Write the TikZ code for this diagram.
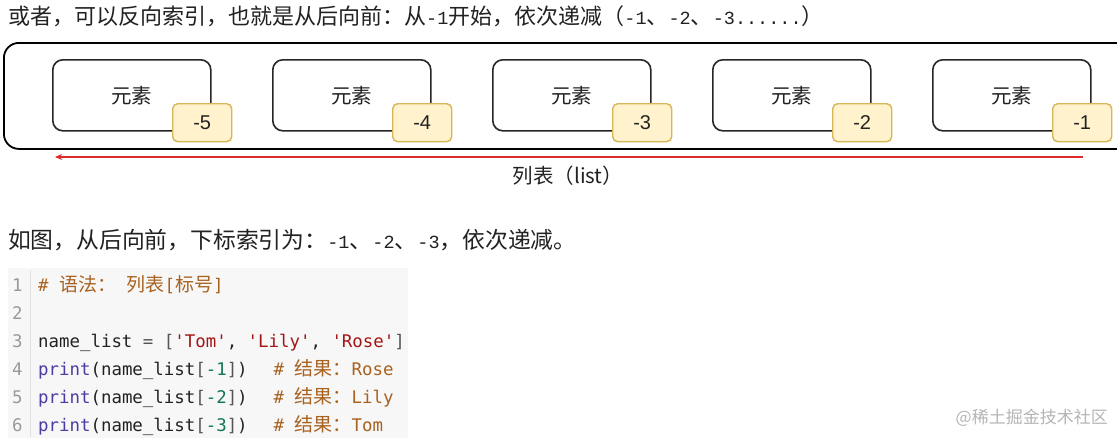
\documentclass[tikz,border=0pt]{standalone}
\usepackage{fontspec}
\newfontfamily\cjk{Noto Sans CJK SC}
\newfontfamily\arial{Liberation Sans}
\newfontfamily\mono{DejaVu Sans Mono}
\newfontfamily\halfw{Liberation Mono}
\usetikzlibrary{arrows.meta}
\definecolor{labfill}{HTML}{FFF2CC}
\definecolor{labdraw}{HTML}{D6B656}
\definecolor{arrred}{HTML}{DD2A2A}
\definecolor{codebg}{HTML}{F7F7F7}
\definecolor{gutter}{HTML}{E2E2E2}
\definecolor{lnum}{HTML}{999999}
\definecolor{cmt}{HTML}{A8611F}
\definecolor{kw}{HTML}{4E3AA6}
\definecolor{str}{HTML}{A31515}
\definecolor{num}{HTML}{117755}
\definecolor{brk}{HTML}{555555}
\definecolor{txt}{HTML}{222222}
\definecolor{wm}{HTML}{B5B5B5}
\newcommand\cj[1]{{\cjk\fontsize{19}{20}\selectfont #1}}
\newcommand\hw[1]{{\halfw\fontsize{18.5}{20}\selectfont #1}}
\newcommand\gap{~~\hspace{5pt}}
\begin{document}
\begin{tikzpicture}[x=1pt,y=-1pt,
  para/.style={inner sep=0pt, anchor=base west, text=txt},
  outerbox/.style={draw=black, line width=1.8pt, rounded corners=15pt, minimum width=1140pt, minimum height=106pt, inner sep=0pt, anchor=north west},
  elem/.style={draw=black!85, line width=1.6pt, rounded corners=10pt, minimum width=158pt, minimum height=71pt, inner sep=0pt, anchor=north west, font=\cjk\fontsize{20.5}{22}\selectfont, text=txt},
  idx/.style={draw=labdraw, fill=labfill, line width=1.4pt, rounded corners=5pt, minimum width=59pt, minimum height=38pt, inner sep=0pt, anchor=north west, font=\arial\fontsize{20}{22}\selectfont, text=txt},
  redarrow/.style={draw=arrred, line width=1.6pt, -{Stealth[length=7pt,width=6pt]}},
  codeline/.style={inner sep=0pt, anchor=base west, font=\mono\fontsize{17.4}{20}\selectfont, text=txt},
  lineno/.style={inner sep=0pt, anchor=base west, font=\mono\fontsize{17.4}{20}\selectfont, text=lnum},
]
\useasboundingbox (0,0) rectangle (1117,437);
\fill[white] (0,0) rectangle (1117,437);
\clip (0,0) rectangle (1117,437);

\node[para, font=\cjk\fontsize{22}{24}\selectfont] (t1) at (8,24) {或者，可以反向索引，也就是从后向前：从\hw{-1}开始，依次递减（\hw{-1}、\hw{-2}、\hw{-3......}）};

\node[outerbox] (list) at (3,42) {};
\foreach \i/\v in {0/-5,1/-4,2/-3,3/-2,4/-1}{
  \node[elem] (e\i) at (52+220*\i,59) {元素};
  \node[idx] (n\i) at (172+220*\i,103) {\v};
}
\coordinate (rs) at (1083,157);
\coordinate (re) at (55,157);
\draw[redarrow] (rs) -- (re);
\node[inner sep=0pt, font=\cjk\fontsize{20.5}{22}\selectfont, text=txt] (cap) at (568,176) {列表（list）};

\node[para, font=\cjk\fontsize{22.8}{24}\selectfont] (t2) at (8,248) {如图，从后向前，下标索引为：\hw{-1}、\hw{-2}、\hw{-3}，依次递减。};

\node[fill=codebg, minimum width=400pt, minimum height=170pt, inner sep=0pt, anchor=north west] (code) at (8,268) {};
\coordinate (g1) at (30,270);
\coordinate (g2) at (30,437);
\draw[gutter, line width=1pt] (g1) -- (g2);

\foreach \k in {1,...,6}{
  \node[lineno] (ln\k) at (12,263+28*\k) {\k};
}
\node[codeline] (c1) at (38,291) {\textcolor{cmt}{\# \cj{语法：} \cj{列表}[\cj{标号}]}};
\node[codeline] (c3) at (38,347) {name\_list \textcolor{brk}{=} \textcolor{brk}{[}\textcolor{str}{'Tom'}, \textcolor{str}{'Lily'}, \textcolor{str}{'Rose'}\textcolor{brk}{]}};
\node[codeline] (c4) at (38,375) {\textcolor{kw}{print}(name\_list\textcolor{brk}{[}\textcolor{num}{-1}\textcolor{brk}{]})\gap\textcolor{cmt}{\# \cj{结果：}Rose}};
\node[codeline] (c5) at (38,403) {\textcolor{kw}{print}(name\_list\textcolor{brk}{[}\textcolor{num}{-2}\textcolor{brk}{]})\gap\textcolor{cmt}{\# \cj{结果：}Lily}};
\node[codeline] (c6) at (38,431) {\textcolor{kw}{print}(name\_list\textcolor{brk}{[}\textcolor{num}{-3}\textcolor{brk}{]})\gap\textcolor{cmt}{\# \cj{结果：}Tom}};

\node[inner sep=0pt, anchor=east, font=\cjk\fontsize{17}{19}\selectfont, text=wm] (wm) at (1108,418) {@稀土掘金技术社区};
\end{tikzpicture}
\end{document}
